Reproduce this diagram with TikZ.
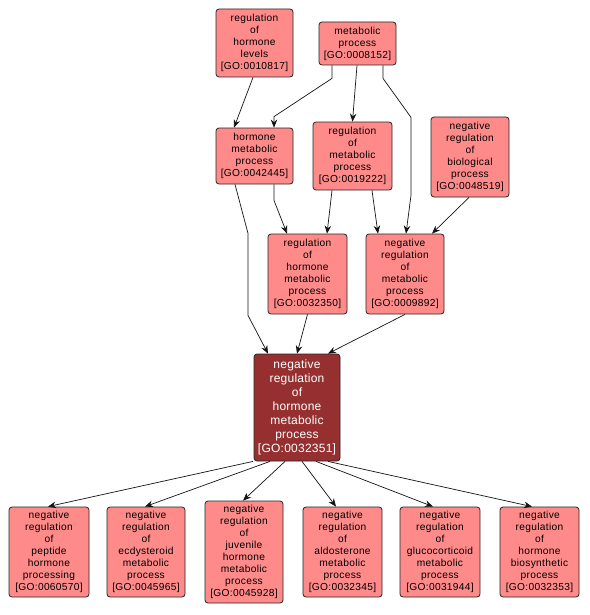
\documentclass[tikz,border=0pt]{standalone}
\usepackage{fontspec}
\setmainfont{Liberation Sans}
\newfontfamily\gofont[LetterSpace=3]{Liberation Sans}
\newfontfamily\gomainfont[LetterSpace=2]{Liberation Sans}
\usetikzlibrary{arrows.meta}
\definecolor{lightnode}{RGB}{255,138,138}
\definecolor{darknode}{RGB}{150,48,48}
\definecolor{edgeline}{RGB}{20,20,20}
\begin{document}
\begin{tikzpicture}[x=1pt,y=-1pt,
  gobox/.style={draw=black!85, fill=lightnode, rounded corners=3pt, line width=0.8pt,
    align=center, inner sep=0pt, font=\gofont\fontsize{10.2}{12}\selectfont},
  mainbox/.style={gobox, fill=darknode, text=white, font=\gomainfont\fontsize{12}{14}\selectfont},
  link/.style={draw=edgeline, line width=0.7pt, -{Stealth[length=8pt,width=6.5pt]}}]
\useasboundingbox[fill=white] (0,0) rectangle (589,615);
% top rows
\node[gobox, minimum width=77pt, minimum height=68pt] (hl) at (254.5,43) {regulation\\of\\hormone\\levels\\{[GO:0010817]}};
\node[gobox, minimum width=77pt, minimum height=43pt] (mp) at (357.5,43.5) {metabolic\\process\\{[GO:0008152]}};
\node[gobox, minimum width=77pt, minimum height=56pt] (hmp) at (254.5,156) {hormone\\metabolic\\process\\{[GO:0042445]}};
\node[gobox, minimum width=79pt, minimum height=68pt] (rmp) at (352.5,156) {regulation\\of\\metabolic\\process\\{[GO:0019222]}};
\node[gobox, minimum width=78pt, minimum height=80pt] (nrbp) at (470,157) {negative\\regulation\\of\\biological\\process\\{[GO:0048519]}};
\node[gobox, minimum width=79pt, minimum height=80pt] (rhmp) at (307.5,274) {regulation\\of\\hormone\\metabolic\\process\\{[GO:0032350]}};
\node[gobox, minimum width=78pt, minimum height=80pt] (nrmp) at (405,274) {negative\\regulation\\of\\metabolic\\process\\{[GO:0009892]}};
% main
\node[mainbox, minimum width=86pt, minimum height=107pt] (main) at (297,407.5) {negative\\regulation\\of\\hormone\\metabolic\\process\\{[GO:0032351]}};
% bottom row
\node[gobox, minimum width=80pt, minimum height=90pt] (pep) at (49,552) {negative\\regulation\\of\\peptide\\hormone\\processing\\{[GO:0060570]}};
\node[gobox, minimum width=78pt, minimum height=90pt] (ecd) at (146,552) {negative\\regulation\\of\\ecdysteroid\\metabolic\\process\\{[GO:0045965]}};
\node[gobox, minimum width=78pt, minimum height=102pt] (juv) at (244,552) {negative\\regulation\\of\\juvenile\\hormone\\metabolic\\process\\{[GO:0045928]}};
\node[gobox, minimum width=79pt, minimum height=90pt] (ald) at (342.5,552) {negative\\regulation\\of\\aldosterone\\metabolic\\process\\{[GO:0032345]}};
\node[gobox, minimum width=80pt, minimum height=90pt] (glu) at (440,552) {negative\\regulation\\of\\glucocorticoid\\metabolic\\process\\{[GO:0031944]}};
\node[gobox, minimum width=79pt, minimum height=90pt] (bio) at (539.5,552) {negative\\regulation\\of\\hormone\\biosynthetic\\process\\{[GO:0032353]}};
% edges
\draw[link] ([xshift=-1.5pt]hl.south) -- ([xshift=-20.5pt]hmp.north);
\draw[link] ([xshift=-25.5pt]mp.south) -- ++(0,13) -- ([xshift=19.5pt,yshift=11pt]hmp.north) -- ([xshift=19.5pt]hmp.north);
\draw[link] ([xshift=-0.5pt]mp.south) -- (rmp.north);
\draw[link] ([xshift=25.5pt]mp.south) -- ++(0,13) -- ++(28,39) -- ++(0,78) -- ([xshift=1pt]nrmp.north);
\draw[link] ([xshift=-19.5pt]hmp.south) -- ++(13,49) -- ++(0,82) -- ([xshift=-29pt]main.north);
\draw[link] ([xshift=19.5pt]hmp.south) -- ++(0,16) -- ([xshift=-20.5pt]rhmp.north);
\draw[link] ([xshift=-20.5pt]rmp.south) -- ([xshift=19.5pt]rhmp.north);
\draw[link] ([xshift=19.5pt]rmp.south) -- ([xshift=-27pt]nrmp.north);
\draw[link] ([xshift=-1pt]nrbp.south) -- ([xshift=27pt]nrmp.north);
\draw[link] (rhmp.south) -- (main.north);
\draw[link] (nrmp.south) -- ([xshift=31pt]main.north);
\draw[link] ([xshift=-44pt]main.south) -- ([xshift=-1pt]pep.north);
\draw[link] ([xshift=-27pt]main.south) -- ([xshift=-1pt]ecd.north);
\draw[link] ([xshift=-12pt]main.south) -- ([xshift=-1pt]juv.north);
\draw[link] ([xshift=5pt]main.south) -- ([xshift=-6.5pt]ald.north);
\draw[link] ([xshift=19pt]main.south) -- ([xshift=-7pt]glu.north);
\draw[link] ([xshift=31pt]main.south) -- ([xshift=-7.5pt]bio.north);
\end{tikzpicture}
\end{document}
